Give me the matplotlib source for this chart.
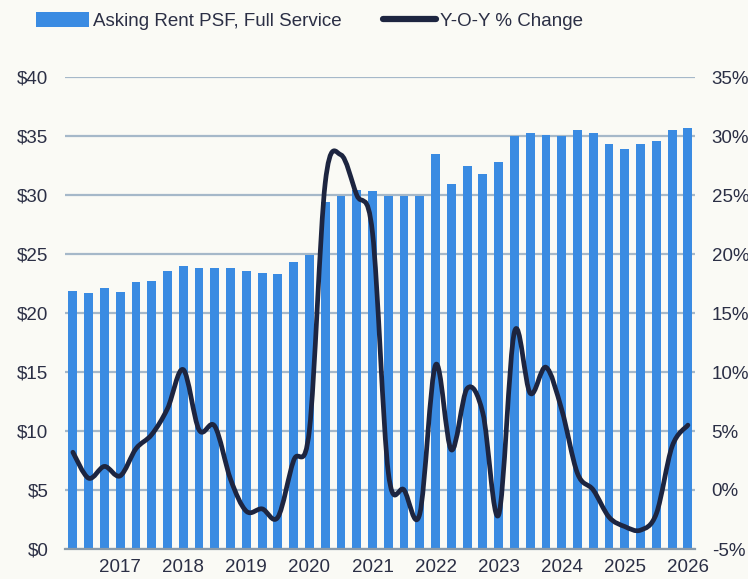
import numpy as np
import matplotlib.pyplot as plt
from matplotlib.path import Path
from matplotlib.patches import PathPatch
from matplotlib.lines import Line2D
from matplotlib.patches import Patch

plt.rcParams['font.family'] = ['Liberation Sans', 'DejaVu Sans']

# quarterly asking rent ($ PSF, full service)
rent = [21.9, 21.7, 22.1, 21.8, 22.6, 22.7, 23.6, 24.0, 23.8, 23.8,
        23.8, 23.6, 23.4, 23.3, 24.3, 24.9, 29.4, 29.9, 30.4, 30.3,
        29.9, 29.9, 29.9, 33.5, 30.9, 32.5, 31.8, 32.8, 35.0, 35.25,
        35.1, 35.0, 35.5, 35.25, 34.35, 33.9, 34.3, 34.6, 35.5, 35.7]

# year-over-year change (%)
yoy = [3.2, 1.0, 2.0, 1.2, 3.5, 4.7, 6.9, 10.2, 5.1, 5.4,
       0.9, -1.8, -1.6, -2.3, 2.5, 5.1, 26.0, 28.4, 25.0, 21.8,
       1.5, 0.0, -2.0, 10.6, 3.4, 8.6, 6.5, -2.1, 13.4, 8.2,
       10.4, 6.8, 1.4, 0.0, -2.3, -3.1, -3.4, -2.0, 3.7, 5.5]

year_labels = ['2017', '2018', '2019', '2020', '2021', '2022', '2023', '2024', '2025', '2026']
year_pos = [3, 7, 11, 15, 19, 23, 27, 31, 35, 39]

bg = '#fafaf5'
bar_color = '#3a8be2'
line_color = '#1d2540'
text_color = '#2b2f45'
grid_color = '#a5b8c9'

x = np.arange(len(rent))

fig = plt.figure(figsize=(7.48, 5.79), dpi=100, facecolor=bg)
ax = fig.add_axes([65 / 748, 30 / 579, 630 / 748, 472 / 579])
ax.set_facecolor(bg)

ax.bar(x, rent, width=0.56, color=bar_color, zorder=2)
ax.set_xlim(-0.5, 39.45)
ax.set_ylim(0, 40)
ax.set_yticks(np.arange(0, 41, 5))
ax.set_yticklabels([f'${v}' for v in range(0, 41, 5)])
ax.yaxis.grid(True, color=grid_color, linewidth=1.6, zorder=0)
ax.set_axisbelow(True)
ax.set_xticks(year_pos)
ax.set_xticklabels(year_labels)
for s in ['top', 'right', 'left']:
    ax.spines[s].set_visible(False)
ax.spines['bottom'].set_color('#8a9aa8')
ax.spines['bottom'].set_linewidth(1.6)
ax.tick_params(axis='both', length=0, labelsize=13.5, colors=text_color)
ax.tick_params(axis='y', pad=12)
ax.tick_params(axis='x', pad=7)

ax2 = ax.twinx()
ax2.set_ylim(-5, 35)
ax2.set_yticks(np.arange(-5, 36, 5))
ax2.set_yticklabels([f'{v}%' for v in range(-5, 36, 5)])
for s in ax2.spines.values():
    s.set_visible(False)
ax2.tick_params(axis='y', length=0, labelsize=13.5, colors=text_color, pad=12)

# smooth curve through the data points (Catmull-Rom as cubic Bezier)
pts = np.column_stack([x, yoy]).astype(float)
verts = [tuple(pts[0])]
codes = [Path.MOVETO]
n = len(pts)
for i in range(n - 1):
    p0 = pts[i - 1] if i > 0 else pts[i]
    p1 = pts[i]
    p2 = pts[i + 1]
    p3 = pts[i + 2] if i + 2 < n else pts[i + 1]
    c1 = p1 + (p2 - p0) / 6.0
    c2 = p2 - (p3 - p1) / 6.0
    verts += [tuple(c1), tuple(c2), tuple(p2)]
    codes += [Path.CURVE4] * 3
ax2.add_patch(PathPatch(Path(verts, codes), facecolor='none', edgecolor=line_color,
                        linewidth=3.4, capstyle='round', joinstyle='round', zorder=3))

handles = [Patch(facecolor=bar_color, edgecolor='none'),
           Line2D([0], [0], color=line_color, linewidth=4.5, solid_capstyle='round')]
fig.legend(handles, ['Asking Rent PSF, Full Service', 'Y-O-Y % Change'],
           loc='upper left', bbox_to_anchor=(0.025, 1.008), ncol=2, frameon=False,
           fontsize=13.5, labelcolor=text_color, handlelength=2.85, handleheight=0.8,
           handletextpad=0.2, columnspacing=2.2)

fig.savefig('out.png', dpi=100, facecolor=bg)
